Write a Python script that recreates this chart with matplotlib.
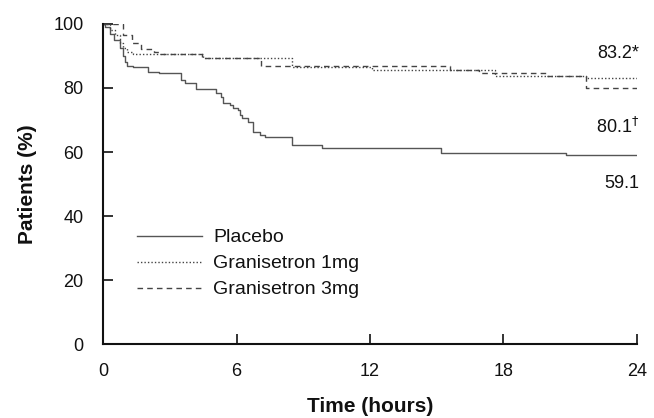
import matplotlib.pyplot as plt

plt.rcParams['font.family'] = ['Liberation Sans', 'DejaVu Sans']

# Kaplan-Meier style step data (time in hours, % patients)
placebo_t = [0, 0.1, 0.3, 0.5, 0.75, 0.9, 1.0, 1.1, 1.35, 2.0, 2.5, 3.5, 3.7,
             4.2, 5.1, 5.3, 5.4, 5.55, 5.7, 5.85, 6.07, 6.16, 6.23, 6.53, 6.76,
             7.06, 7.28, 8.5, 9.85, 15.2, 20.8, 24]
placebo_y = [100, 99, 97, 95, 92.5, 90, 88, 87, 86.5, 85.1, 84.6, 82.5, 81.5,
             79.6, 78.3, 77.3, 75.4, 75.2, 74.7, 73.6, 73.1, 71.6, 70.5, 69.5, 66.3,
             65.3, 64.6, 62.2, 61.4, 59.8, 59.1, 59.1]

g1_t = [0, 0.3, 0.55, 0.75, 0.9, 1.1, 1.35, 4.5, 8.5, 12.1, 17.6, 21.7, 24]
g1_y = [100, 98, 96.6, 94.2, 92.5, 91.3, 90.6, 89.3, 86.7, 85.6, 83.8, 83.2, 83.2]

g3_t = [0, 0.9, 1.3, 1.7, 2.3, 2.6, 4.45, 7.1, 15.6, 16.9, 19.9, 21.7, 24]
g3_y = [100, 96.5, 94, 92.3, 91.2, 90.5, 89.3, 86.8, 85.6, 84.6, 83.8, 80.1, 80.1]

end_labels = ['83.2*', '80.1$^{\\dagger}$', '59.1']
end_label_y = [90.9, 67.8, 50.3]

fig = plt.figure(figsize=(6.54, 4.18), dpi=100)
ax = fig.add_axes([0.1575, 0.177, 0.8165, 0.7656])

ax.step(placebo_t, placebo_y, where='post', color='#555555', lw=1.0,
        linestyle='-', label='Placebo')
ax.step(g1_t, g1_y, where='post', color='#444444', lw=1.0,
        linestyle=(0, (1, 1.5)), label='Granisetron 1mg')
ax.step(g3_t, g3_y, where='post', color='#444444', lw=1.0,
        linestyle=(0, (4, 3)), label='Granisetron 3mg')

for lab, yy in zip(end_labels, end_label_y):
    ax.text(24.1, yy, lab, ha='right', va='center', fontsize=13, color='#111111')

ax.set_xlim(0, 24)
ax.set_ylim(0, 100)
ax.set_xticks([0, 6, 12, 18, 24])
ax.set_yticks([0, 20, 40, 60, 80, 100])
ax.tick_params(direction='in', length=7, width=1.2, labelsize=13,
               colors='#111111', pad=14)
for s in ['top', 'right']:
    ax.spines[s].set_visible(False)
for s in ['left', 'bottom']:
    ax.spines[s].set_linewidth(1.5)
    ax.spines[s].set_color('#111111')

ax.set_xlabel('Time (hours)', fontsize=15, fontweight='bold', color='#111111',
              labelpad=12)
ax.set_ylabel('Patients (%)', fontsize=15, fontweight='bold', color='#111111',
              labelpad=12)

leg = ax.legend(loc='upper left', bbox_to_anchor=(0.064, 0.36), frameon=False,
                fontsize=14, handlelength=3.35, handletextpad=0.57,
                labelspacing=0.43, borderpad=0, borderaxespad=0)
for t in leg.get_texts():
    t.set_color('#111111')

fig.savefig('out.png', dpi=100)
